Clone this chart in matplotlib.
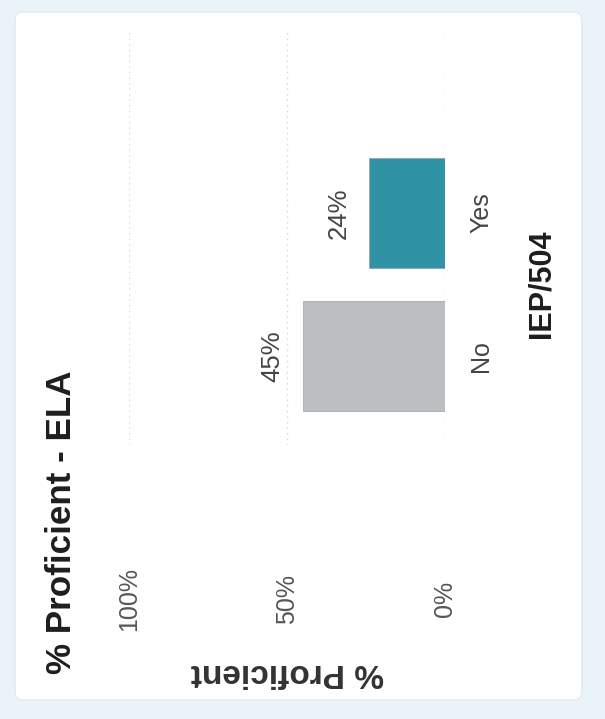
#!/usr/bin/env python3
"""Rotated Power BI style bar chart: % Proficient - ELA by IEP/504."""
import matplotlib
matplotlib.use("Agg")
import matplotlib.pyplot as plt
from matplotlib.patches import FancyBboxPatch

# Data
categories = ["No", "Yes"]
values = [45, 24]
bar_colors = ["#bcbfc1", "#2f93a5"]
tick_values = [0, 50, 100]
tick_labels = ["0%", "50%", "100%"]

TITLE = "% Proficient - ELA"
CAT_TITLE = "IEP/504"
VAL_TITLE = "% Proficient"

W, H = 605, 719
FONT = ["Liberation Sans", "DejaVu Sans"]


def fx(px):
    return px / W


def fy(py):
    return 1 - py / H


def main() -> int:
    fig = plt.figure(figsize=(W / 100, H / 100), dpi=100)
    fig.patch.set_facecolor("#eaf3f7")

    # white card behind the chart
    card = FancyBboxPatch((fx(15), fy(700)), fx(582) - fx(15), fy(12) - fy(700),
                          boxstyle="round,pad=0,rounding_size=0.012",
                          transform=fig.transFigure, facecolor="white",
                          edgecolor="#dfe9ee", linewidth=1.0, zorder=-5)
    fig.patches.append(card)

    # axes: value axis runs right->left, categories bottom->top
    left, right, top, bottom = 129, 445, 28, 445
    ax = fig.add_axes([fx(left), fy(bottom), fx(right) - fx(left), fy(top) - fy(bottom)])
    ax.set_zorder(2)
    ax.set_facecolor("none")
    ax.set_xlim(100, 0)
    ax.set_ylim(-0.622, 2.294)

    ypos = list(range(len(categories)))
    bars = ax.barh(ypos, values, height=0.77, color=bar_colors, zorder=3)
    for b in bars:
        b.set_edgecolor("#8a9496")
        b.set_linewidth(0.4)

    # value labels, rotated with the chart
    for y, v in zip(ypos, values):
        ax.annotate(f"{v}%", (v, y), xytext=(-18, 0), textcoords="offset pixels",
                    rotation=90, ha="right", va="center", fontsize=18.5,
                    family=FONT, color="#444444")

    # faint dotted gridlines
    ax.set_xticks(tick_values)
    ax.grid(axis="x", color="#d6d6d6", linestyle=(0, (1, 3)), linewidth=1.0, zorder=1)
    for s in ax.spines.values():
        s.set_visible(False)

    ax.set_xticklabels(tick_labels, rotation=90, ha="center", va="center",
                       fontsize=18, family=FONT, color="#555555")
    ax.tick_params(axis="x", length=0, pad=111)

    ax.set_yticks(ypos)
    ax.yaxis.tick_right()
    ax.set_yticklabels(categories, rotation=90, ha="center", va="center",
                       fontsize=18, family=FONT, color="#444444")
    ax.tick_params(axis="y", length=0, pad=26)

    # titles
    fig.text(fx(62), fy(522), TITLE, rotation=90, ha="center", va="center",
             fontsize=25.2, fontweight="bold", family=FONT, color="#1e1e1e")
    fig.text(fx(542), fy(284), CAT_TITLE, rotation=90, ha="center", va="center",
             fontsize=22, fontweight="bold", family=FONT, color="#1e1e1e")
    fig.text(fx(287), fy(673), VAL_TITLE, rotation=180, ha="center", va="center",
             fontsize=24, fontweight="bold", family=FONT, color="#333333")

    fig.savefig("out.png", dpi=100, facecolor=fig.get_facecolor())
    plt.close(fig)
    return 0


if __name__ == "__main__":
    raise SystemExit(main())
